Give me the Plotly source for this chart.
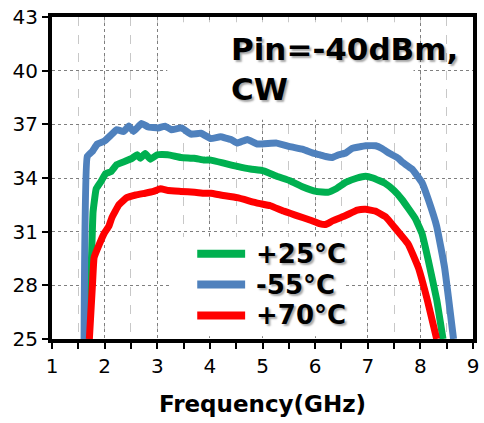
import plotly.graph_objects as go

# ---------------- data ----------------
series_names = ["+25°C", "-55°C", "+70°C"]
series_colors = ["#00B050", "#4F81BD", "#FF0000"]

freq_25 = [1.68, 1.75, 1.78, 1.84, 1.93, 2.02, 2.12, 2.23, 2.40, 2.52, 2.62, 2.68, 2.77, 2.87,
           3.00, 3.20, 3.45, 3.70, 3.90, 4.02, 4.30, 4.52, 4.77, 5.02, 5.27, 5.52, 5.77, 6.02,
           6.24, 6.40, 6.58, 6.80, 6.96, 7.10, 7.33, 7.50, 7.65, 7.90, 8.03, 8.15, 8.31, 8.43]
gain_25 = [25.0, 29.5, 32.1, 33.4, 33.8, 34.25, 34.35, 34.75, 34.95, 35.1, 35.3, 35.1, 35.37, 35.05,
           35.3, 35.3, 35.15, 35.1, 35.0, 35.0, 34.8, 34.65, 34.5, 34.4, 34.1, 33.85, 33.5, 33.25,
           33.2, 33.4, 33.75, 34.0, 34.1, 34.0, 33.7, 33.3, 32.8, 31.75, 30.9, 29.4, 27.2, 25.0]

freq_m55 = [1.61, 1.67, 1.77, 1.86, 1.99, 2.12, 2.23, 2.36, 2.46, 2.55, 2.70, 2.83, 3.02, 3.15,
            3.27, 3.46, 3.64, 3.83, 4.02, 4.20, 4.40, 4.52, 4.71, 4.90, 5.27, 5.52, 5.77, 5.95,
            6.08, 6.20, 6.33, 6.45, 6.58, 6.70, 6.96, 7.15, 7.27, 7.40, 7.58, 7.65, 7.84, 8.03,
            8.15, 8.31, 8.46, 8.63]
gain_m55 = [25.0, 35.2, 35.5, 35.9, 36.05, 36.4, 36.7, 36.6, 36.9, 36.6, 37.05, 36.85, 36.8, 36.9,
            36.7, 36.8, 36.45, 36.5, 36.2, 36.3, 36.15, 35.95, 36.15, 35.9, 35.95, 35.75, 35.6, 35.4,
            35.3, 35.2, 35.15, 35.3, 35.4, 35.65, 35.8, 35.8, 35.65, 35.4, 35.1, 34.9, 34.5, 33.75,
            32.8, 31.3, 29.0, 25.0]

freq_70 = [1.71, 1.77, 1.80, 1.90, 1.99, 2.08, 2.14, 2.27, 2.42, 2.59, 2.77, 2.93, 3.06, 3.21,
           3.45, 3.71, 3.90, 4.02, 4.20, 4.52, 4.90, 5.15, 5.40, 5.65, 5.90, 6.08, 6.20, 6.33,
           6.58, 6.80, 6.96, 7.14, 7.35, 7.52, 7.77, 7.96, 8.13, 8.31]
gain_70 = [25.0, 28.1, 29.55, 30.3, 30.9, 31.3, 31.8, 32.5, 32.9, 33.05, 33.15, 33.25, 33.4, 33.3,
           33.25, 33.2, 33.15, 33.15, 33.05, 32.9, 32.6, 32.45, 32.15, 31.9, 31.65, 31.45, 31.4, 31.6,
           31.9, 32.2, 32.25, 32.15, 31.8, 31.2, 30.3, 29.0, 27.2, 25.0]

x_ticks = [1, 2, 3, 4, 5, 6, 7, 8, 9]
y_ticks = [25, 28, 31, 34, 37, 40, 43]
x_title = "Frequency(GHz)"
note_text = "Pin=-40dBm,<br>CW"

freqs = [freq_25, freq_m55, freq_70]
gains = [gain_25, gain_m55, gain_70]

# ---------------- figure ----------------
fig = go.Figure()
for name, color, fx, gy in zip(series_names, series_colors, freqs, gains):
    fig.add_trace(go.Scatter(x=fx, y=gy, mode="lines", name=name,
                             line=dict(color=color, width=7, shape="spline", smoothing=0.3),
                             showlegend=False))

shadow = "2px 2px 2px rgba(0,0,0,0.35)"

# white boxes hiding gridlines (note + legend)
fig.add_shape(type="rect", xref="x", yref="y", x0=3.19, x1=7.87, y0=37.25, y1=42.7,
              fillcolor="white", line=dict(width=0), layer="between")
fig.add_shape(type="rect", xref="x", yref="y", x0=3.25, x1=6.53, y0=25.15, y1=30.7,
              fillcolor="white", line=dict(width=0), layer="between")

# manual legend
leg_y = [29.76, 28.04, 26.32]
for name, color, ly in zip(series_names, series_colors, leg_y):
    fig.add_shape(type="line", xref="x", yref="y", x0=3.76, x1=4.67, y0=ly, y1=ly,
                  line=dict(color=color, width=8), layer="above")
    fig.add_annotation(x=4.84, y=ly, xref="x", yref="y", text=name, showarrow=False,
                       xanchor="left", yanchor="middle",
                       font=dict(family="DejaVu Sans", size=26, color="black",
                                 weight="bold", shadow=shadow))

fig.add_annotation(x=4.37, y=42.35, xref="x", yref="y", text=note_text, showarrow=False,
                   xanchor="left", yanchor="top", align="left",
                   font=dict(family="DejaVu Sans", size=31, color="black",
                             weight="bold", shadow=shadow))

grid_major = dict(showgrid=True, gridcolor="#7f7f7f", griddash="dot", gridwidth=1)

fig.update_xaxes(range=[1, 9], tickvals=x_ticks, ticks="outside", ticklen=6, tickwidth=2,
                 tickcolor="black", showline=True, linecolor="black", linewidth=4, mirror=True,
                 zeroline=False, **grid_major,
                 minor=dict(dtick=0.5, tick0=1, ticks="outside", ticklen=6, tickwidth=2,
                            tickcolor="black", showgrid=True, gridcolor="#c8c8c8",
                            griddash="dash", gridwidth=1),
                 tickfont=dict(family="DejaVu Sans", size=20, color="black"),
                 title=dict(text=x_title, standoff=20,
                            font=dict(family="DejaVu Sans", size=23, color="black",
                                      weight="bold")))
fig.update_yaxes(range=[25, 43], tickvals=y_ticks, ticks="outside", ticklen=6, tickwidth=2,
                 tickcolor="black", showline=True, linecolor="black", linewidth=4, mirror=True,
                 zeroline=False, **grid_major,
                 tickfont=dict(family="DejaVu Sans", size=20, color="black"))

fig.update_layout(width=484, height=423, margin=dict(l=52, r=5, t=15, b=84),
                  plot_bgcolor="white", paper_bgcolor="white", showlegend=False)

fig.write_html("out.html")
